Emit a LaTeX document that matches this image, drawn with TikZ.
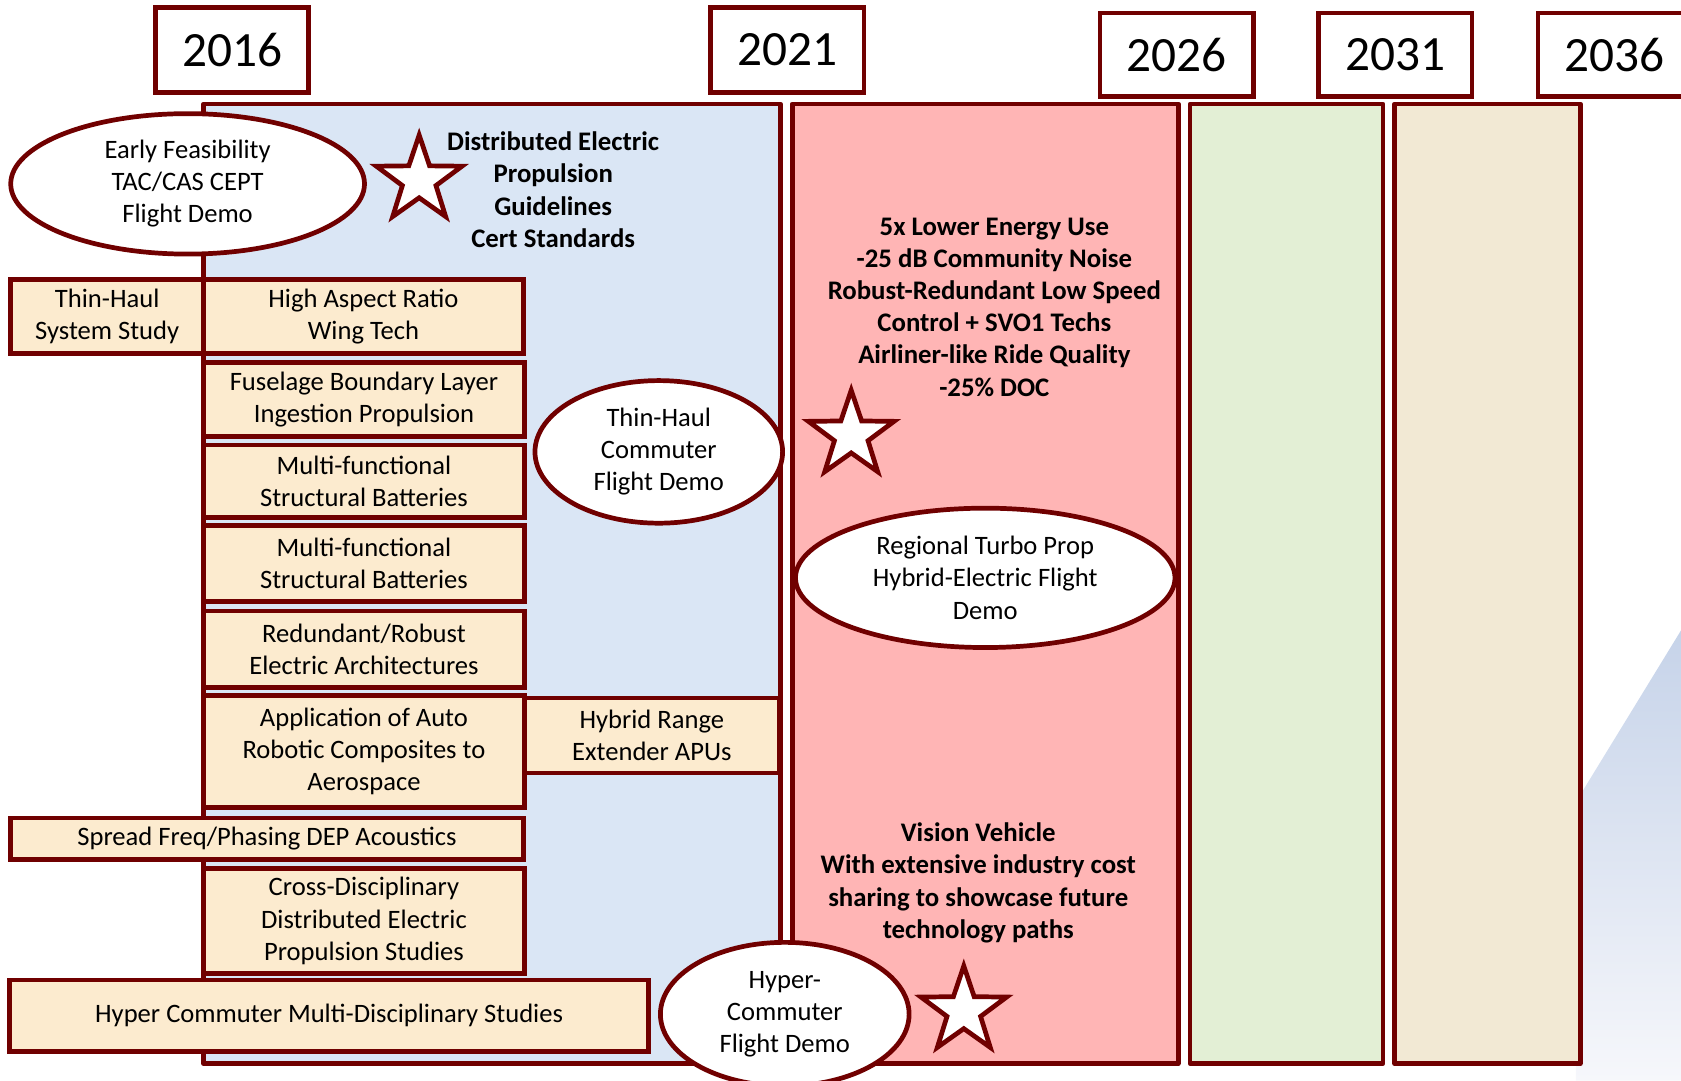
\documentclass[tikz,border=0pt]{standalone}
\usepackage{fontspec}
\setmainfont{Carlito}
\usetikzlibrary{shapes.geometric}
\definecolor{bord}{HTML}{700000}
\definecolor{bluep}{HTML}{DAE6F5}
\definecolor{pinkp}{HTML}{FFB5B5}
\definecolor{greenp}{HTML}{E3EFD5}
\definecolor{beigep}{HTML}{F2E9D4}
\definecolor{boxfill}{HTML}{FCEBCF}
\definecolor{decotop}{HTML}{C6D3E9}
\definecolor{decobot}{HTML}{F6F7FB}
\begin{document}
\begin{tikzpicture}[x=0.5pt,y=-0.5pt,
  panel/.style={draw=bord, line width=2.2pt, line join=round},
  yearbox/.style={rectangle, draw=bord, fill=white, line width=2.2pt, inner sep=0pt,
    minimum width=71.5pt, minimum height=39.5pt, font=\fontsize{23}{27}\selectfont},
  task/.style={rectangle, draw=bord, fill=boxfill, line width=2.2pt, align=center,
    inner sep=0pt, font=\fontsize{12.4}{15}\selectfont},
  demo/.style={ellipse, draw=bord, fill=white, line width=2.2pt, align=center,
    inner sep=0pt, font=\fontsize{12.4}{15}\selectfont},
  starnode/.style={star, star points=5, star point ratio=2.55, draw=bord, fill=white,
    line width=2.2pt, inner sep=0pt, minimum size=42pt},
  goaltext/.style={align=center, inner sep=0pt, font=\bfseries\fontsize{12.5}{15}\selectfont}
]
\useasboundingbox (0,0) rectangle (1568,1008);
\clip (0,0) rectangle (1568,1008);

% background decoration at right
\shade[top color=decotop, bottom color=decobot] (1568,588) -- (1470,748) -- (1470,1008) -- (1568,1008) -- cycle;

% panels
\draw[panel, fill=bluep] (190,97) rectangle (728,992);
\draw[panel, fill=pinkp] (739,97) rectangle (1099,992);
\draw[panel, fill=greenp] (1110,97) rectangle (1290,992);
\draw[panel, fill=beigep] (1301,97) rectangle (1474,992);

% year boxes
\node[yearbox] (y2016) at (216.5,46.5) {2016};
\node[yearbox] (y2021) at (734.5,46.5) {2021};
\node[yearbox, minimum height=39pt] (y2026) at (1097.5,51) {2026};
\node[yearbox, minimum height=39pt] (y2031) at (1301.5,51) {2031};
\node[yearbox, minimum height=39pt] (y2036) at (1506,51) {2036};

% task boxes
\node[task, minimum width=90pt, minimum height=34.5pt] (thinhaul) at (100,295.5) {Thin-Haul\\System Study};
\node[task, minimum width=149pt, minimum height=34.5pt] (hiar) at (339,295.5) {High Aspect Ratio\\Wing Tech};
\node[task, minimum width=149.5pt, minimum height=34.5pt] (fbl) at (339.5,372.5) {Fuselage Boundary Layer\\Ingestion Propulsion};
\node[task, minimum width=149.5pt, minimum height=34pt] (mfsba) at (339.5,449) {Multi-functional\\Structural Batteries};
\node[task, minimum width=149.5pt, minimum height=35.5pt] (mfsbb) at (339.5,525.5) {Multi-functional\\Structural Batteries};
\node[task, minimum width=149.5pt, minimum height=35.5pt] (redund) at (339.5,605.5) {Redundant/Robust\\Electric Architectures};
\node[task, minimum width=149.5pt, minimum height=52pt] (autorob) at (339.5,701) {Application of Auto\\Robotic Composites to\\Aerospace};
\node[task, minimum width=119pt, minimum height=35pt] (hybrid) at (608,686) {Hybrid Range\\Extender APUs};
\node[task, minimum width=239pt, minimum height=19.5pt] (spread) at (249,782.5) {Spread Freq/Phasing DEP Acoustics};
\node[task, minimum width=149.5pt, minimum height=49pt] (crossd) at (339.5,859) {Cross-Disciplinary\\Distributed Electric\\Propulsion Studies};
\node[task, minimum width=298pt, minimum height=33.5pt] (hyperst) at (307,947.5) {Hyper Commuter Multi-Disciplinary Studies};

% demo ellipses
\node[demo, minimum width=165pt, minimum height=65.5pt] (early) at (175,171.5) {Early Feasibility\\TAC/CAS CEPT\\Flight Demo};
\node[demo, minimum width=115.5pt, minimum height=66.5pt] (thdemo) at (614.5,421.5) {Thin-Haul\\Commuter\\Flight Demo};
\node[demo, minimum width=177pt, minimum height=65pt] (regional) at (919,539) {Regional Turbo Prop\\Hybrid-Electric Flight\\Demo};
\node[demo, minimum width=116pt, minimum height=67pt] (hyperdemo) at (732,946) {Hyper-\\Commuter\\Flight Demo};

% stars
\node[starnode] (stara) at (391,168) {};
\node[starnode] (starb) at (794,406) {};
\node[starnode] (starc) at (899,943) {};

% goal texts
\node[goaltext] (deptext) at (516,177) {Distributed Electric\\Propulsion\\Guidelines\\Cert Standards};
\node[goaltext] (goals) at (927.5,286.5) {5x Lower Energy Use\\-25 dB Community Noise\\Robust-Redundant Low Speed\\Control + SVO1 Techs\\Airliner-like Ride Quality\\-25\% DOC};
\node[goaltext] (vision) at (912.5,823.5) {Vision Vehicle\\With extensive industry cost\\sharing to showcase future\\technology paths};
\end{tikzpicture}
\end{document}
